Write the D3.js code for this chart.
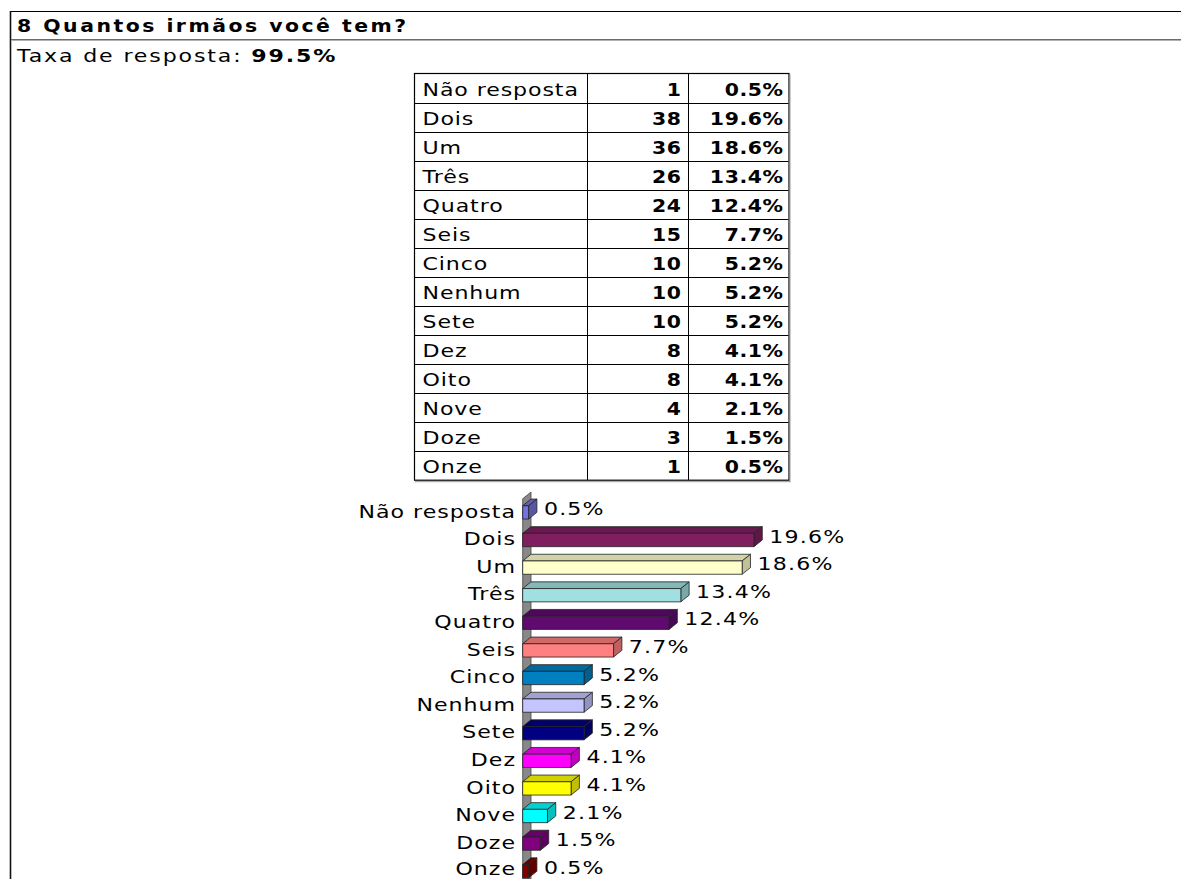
<!DOCTYPE html>
<html><head><meta charset="utf-8">
<script src="https://cdn.jsdelivr.net/npm/d3@7"></script>
<style>body{margin:0;background:#fff;overflow:hidden} svg{display:block}</style>
</head><body><svg id="c" width="1181" height="879"></svg>
<script>
const title = "8 Quantos irmãos você tem?";
const rateLabel = "Taxa de resposta: ";
const rateValue = "99.5%";
const categories = ["Não resposta","Dois","Um","Três","Quatro","Seis","Cinco","Nenhum","Sete","Dez","Oito","Nove","Doze","Onze"];
const counts = [1,38,36,26,24,15,10,10,10,8,8,4,3,1];
const percents = [0.5,19.6,18.6,13.4,12.4,7.7,5.2,5.2,5.2,4.1,4.1,2.1,1.5,0.5];
const colors = ["#7474dc","#7f1f5f","#ffffcc","#a0e0e0","#5e0a6e","#ff8080","#0080c0","#c4c4ff","#000080","#ff00ff","#ffff00","#00ffff","#800080","#800000"];

const svg = d3.select("#c");
const FONT = "'DejaVu Sans', Verdana, sans-serif";

function label(g, x, y, parts, o) {
  o = o || {};
  const sx = o.sx || 1.3;
  const ls = (o.ls != null ? o.ls : 1.0);
  const t = g.append("text")
    .attr("transform", `translate(${x + (o.anchor === "end" ? ls : 0)},${y}) scale(${sx},1)`)
    .attr("font-family", FONT)
    .attr("font-size", o.size || 17)
    .attr("letter-spacing", ls / sx)
    .attr("text-anchor", o.anchor || "start")
    .attr("fill", "#000");
  (Array.isArray(parts) ? parts : [[parts, o.bold]]).forEach(p => {
    t.append("tspan").attr("font-weight", p[1] ? "bold" : "normal").text(p[0]);
  });
  return t;
}

// outer frame
svg.append("line").attr("x1", 10).attr("x2", 1181).attr("y1", 11.5).attr("y2", 11.5).attr("stroke", "#000").attr("stroke-width", 1);
svg.append("line").attr("x1", 10.5).attr("x2", 10.5).attr("y1", 11).attr("y2", 879).attr("stroke", "#111").attr("stroke-width", 1.6);
svg.append("line").attr("x1", 11).attr("x2", 1181).attr("y1", 39.5).attr("y2", 39.5).attr("stroke", "#6a6a6a").attr("stroke-width", 1);
svg.append("line").attr("x1", 11).attr("x2", 1181).attr("y1", 40.5).attr("y2", 40.5).attr("stroke", "#b0b0b0").attr("stroke-width", 1);

label(svg, 17, 32, title, {bold: true, size: 17, sx: 1.2, ls: 2.5});
label(svg, 17, 62, [[rateLabel, false], [rateValue, true]], {ls: 1.85});

// table
const tX0 = 414, tC1 = 587, tC2 = 688, tX1 = 788.5;
const rowScale = d3.scaleBand().domain(categories).range([73.5, 73.5 + 14 * 29.05]);
const tg = svg.append("g");
categories.forEach((c, i) => {
  const yy = rowScale(c);
  label(tg, tX0 + 8.5, yy + 22, c, {ls: 0.9});
  label(tg, 681, yy + 22, String(counts[i]), {bold: true, anchor: "end", sx: 1.2, ls: 0.6});
  label(tg, 783, yy + 22, percents[i].toFixed(1) + "%", {bold: true, anchor: "end", sx: 1.2, ls: 0.6});
  if (i > 0) tg.append("line").attr("x1", tX0).attr("x2", tX1).attr("y1", Math.round(yy) + 0.5).attr("y2", Math.round(yy) + 0.5).attr("stroke", "#000");
});
const tTop = rowScale.range()[0], tBot = rowScale.range()[1];
[tC1, tC2].forEach(xx => tg.append("line").attr("x1", xx + 0.5).attr("x2", xx + 0.5).attr("y1", tTop).attr("y2", tBot).attr("stroke", "#000"));
tg.append("rect").attr("x", tX0 + 0.5).attr("y", tTop).attr("width", tX1 - tX0).attr("height", tBot - tTop).attr("fill", "none").attr("stroke", "#000").attr("stroke-width", 1.2);
tg.append("line").attr("x1", tX1 + 1.5).attr("x2", tX1 + 1.5).attr("y1", tTop + 1).attr("y2", tBot + 2).attr("stroke", "#999");
tg.append("line").attr("x1", tX0 + 1).attr("x2", tX1 + 2).attr("y1", tBot + 1.5).attr("y2", tBot + 1.5).attr("stroke", "#999");

// bar chart
const x = d3.scaleLinear().domain([0, 20]).range([522.7, 522.7 + 20 * 11.8]);
const y = d3.scalePoint().domain(categories).range([512.4, 512.4 + 13 * 27.6]);
const BH = 13.3, DX = 8.3, DY = -6.7;
const cg = svg.append("g");

// wall
cg.append("path")
  .attr("d", `M${x(0)},${y(categories[0]) - BH / 2 - 7}L${x(0) + DX},${y(categories[0]) - BH / 2 - 7 + DY}L${x(0) + DX},879L${x(0)},879Z`)
  .attr("fill", "#888").attr("stroke", "#444").attr("stroke-width", 0.8);

categories.forEach((c, i) => {
  const col = d3.color(colors[i]);
  const top = col.darker(0.55), side = col.darker(0.8);
  const x0 = x(0), x1 = x(percents[i]);
  const yt = y(c) - BH / 2, yb = y(c) + BH / 2;
  const g = cg.append("g").attr("stroke", "#222").attr("stroke-width", 0.8).attr("stroke-linejoin", "round");
  g.append("path").attr("d", `M${x0},${yt}L${x0 + DX},${yt + DY}L${x1 + DX},${yt + DY}L${x1},${yt}Z`).attr("fill", top);
  g.append("path").attr("d", `M${x1},${yt}L${x1 + DX},${yt + DY}L${x1 + DX},${yb + DY}L${x1},${yb}Z`).attr("fill", side);
  g.append("rect").attr("x", x0).attr("y", yt).attr("width", x1 - x0).attr("height", BH).attr("fill", col);
  label(cg, 515, Math.min(yb - 1.5, 875), c, {ls: 1.0, anchor: "end"});
  label(cg, x1 + DX + 7, yb - 4, percents[i].toFixed(1) + "%", {ls: 1.2});
});
</script></body></html>
